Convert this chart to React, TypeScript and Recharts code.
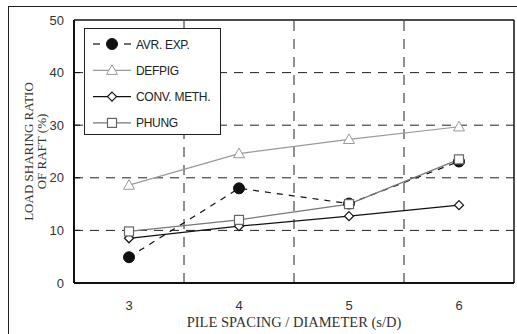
import React from "react";
import { LineChart, Line, XAxis, YAxis, ReferenceLine } from "recharts";

const SPACING = [3, 4, 5, 6];
const AVR_EXP = [4.9, 18.0, 15.1, 23.1];
const DEFPIG = [18.6, 24.6, 27.3, 29.7];
const CONV_METH = [8.5, 10.8, 12.7, 14.8];
const PHUNG = [9.8, 12.0, 15.0, 23.5];

const X_TICKS = [3, 4, 5, 6];
const Y_TICKS = [0, 10, 20, 30, 40, 50];
const V_GRID = [3.5, 4.5, 5.5];
const H_GRID = [10, 20, 30, 40];

const data = SPACING.map((s, i) => ({
  s,
  avr: AVR_EXP[i],
  defpig: DEFPIG[i],
  conv: CONV_METH[i],
  phung: PHUNG[i],
}));

const SANS = "'Liberation Sans', Arial, sans-serif";
const SERIF = "'Liberation Serif', 'Times New Roman', serif";

function Circle({ cx, cy }: any) {
  return <circle cx={cx} cy={cy} r={5.5} fill="#111" stroke="#111" />;
}
function Triangle({ cx, cy }: any) {
  const r = 5.5;
  return (
    <polygon
      points={`${cx},${cy - r} ${cx - r},${cy + r * 0.75} ${cx + r},${cy + r * 0.75}`}
      fill="#fff"
      stroke="#999"
      strokeWidth={1}
    />
  );
}
function Diamond({ cx, cy }: any) {
  const r = 4.5;
  return (
    <polygon
      points={`${cx},${cy - r} ${cx + r},${cy} ${cx},${cy + r} ${cx - r},${cy}`}
      fill="#fff"
      stroke="#111"
      strokeWidth={1.2}
    />
  );
}
function Square({ cx, cy }: any) {
  const r = 4.5;
  return <rect x={cx - r} y={cy - r} width={r * 2} height={r * 2} fill="#fff" stroke="#666" strokeWidth={1.2} />;
}

const SERIES = [
  { key: "avr", name: "AVR. EXP.", color: "#111", dash: "6 6", Dot: Circle },
  { key: "defpig", name: "DEFPIG", color: "#999", dash: undefined, Dot: Triangle },
  { key: "conv", name: "CONV. METH.", color: "#111", dash: undefined, Dot: Diamond },
  { key: "phung", name: "PHUNG", color: "#777", dash: undefined, Dot: Square },
];

function LegendBox() {
  return (
    <div
      style={{
        position: "absolute",
        left: 84,
        top: 28,
        width: 137,
        height: 107,
        border: "1px solid #222",
        background: "#fff",
        boxSizing: "border-box",
      }}
    >
      <svg width={135} height={105} style={{ display: "block" }}>
        {SERIES.map((s, i) => {
          const y = 15 + i * 26.3;
          const D = s.Dot;
          return (
            <g key={s.key}>
              {s.dash ? (
                <>
                  <line x1={8} x2={15} y1={y} y2={y} stroke={s.color} strokeWidth={1.2} />
                  <line x1={39} x2={46} y1={y} y2={y} stroke={s.color} strokeWidth={1.2} />
                </>
              ) : (
                <line x1={8} x2={46} y1={y} y2={y} stroke={s.color} strokeWidth={1.2} />
              )}
              <D cx={27} cy={y} />
              <text x={51} y={y + 4.5} fontSize={12} fontFamily={SANS} fill="#222" letterSpacing={-0.3}>
                {s.name}
              </text>
            </g>
          );
        })}
      </svg>
    </div>
  );
}

function YTick({ x, y, payload }: any) {
  return (
    <g>
      <text x={x} y={y + 4.5} textAnchor="end" fontSize={13} fontFamily={SANS} fill="#333">
        {payload.value}
      </text>
      {payload.value !== 0 && payload.value !== 50 && (
        <line x1={x + 10} x2={x + 16} y1={y} y2={y} stroke="#111" />
      )}
    </g>
  );
}

function YLabel({ viewBox }: any) {
  const cy = viewBox.y + viewBox.height / 2;
  const x1 = viewBox.x + 28;
  const x2 = viewBox.x + 41;
  return (
    <g fontFamily={SERIF} fontSize={13} fill="#333" textAnchor="middle">
      <text x={x1} y={cy} transform={`rotate(-90, ${x1}, ${cy})`} dy="0.35em">
        LOAD SHARING RATIO
      </text>
      <text x={x2} y={cy} transform={`rotate(-90, ${x2}, ${cy})`} dy="0.35em">
        OF RAFT (%)
      </text>
    </g>
  );
}

function XLabel({ viewBox }: any) {
  const cx = viewBox.x + viewBox.width / 2;
  return (
    <text x={cx} y={327} textAnchor="middle" fontFamily={SERIF} fontSize={14.5} fill="#333">
      PILE SPACING / DIAMETER (s/D)
    </text>
  );
}

export default function App() {
  return (
    <div style={{ position: "absolute", left: 0, top: 0, width: 517, height: 334, background: "#fff", overflow: "hidden" }}>
      <div
        style={{
          position: "absolute",
          left: 8,
          top: 6,
          width: 520,
          height: 340,
          borderLeft: "1.5px solid #222",
          borderTop: "1.5px solid #222",
        }}
      />
      <div style={{ position: "absolute", left: 0, top: 0 }}>
        <LineChart width={517} height={334} data={data} margin={{ top: 20, right: 3, left: 0, bottom: 0 }}>
          <XAxis
            dataKey="s"
            type="number"
            domain={[2.5, 6.5]}
            ticks={X_TICKS}
            height={51}
            tickLine={false}
            axisLine={{ stroke: "#111", strokeWidth: 2 }}
            tickMargin={12}
            tick={{ fontSize: 13, fontFamily: SANS, fill: "#333" }}
            label={{ content: XLabel }}
          />
          <YAxis
            type="number"
            domain={[0, 50]}
            ticks={Y_TICKS}
            width={74}
            tickLine={false}
            tickSize={0}
            tickMargin={10}
            axisLine={{ stroke: "#111", strokeWidth: 2 }}
            tick={YTick}
            label={{ content: YLabel }}
          />
          {H_GRID.map((v) => (
            <ReferenceLine key={`h${v}`} y={v} stroke="#222" strokeDasharray="9 7" strokeWidth={1} />
          ))}
          {V_GRID.map((v) => (
            <ReferenceLine key={`v${v}`} x={v} stroke="#222" strokeDasharray="10 8" strokeWidth={1} />
          ))}
          <ReferenceLine y={50} stroke="#111" strokeWidth={1.5} />
          <ReferenceLine x={6.5} stroke="#111" strokeWidth={1.5} />
          {SERIES.map((s) => (
            <Line
              key={s.key}
              dataKey={s.key}
              name={s.name}
              type="linear"
              stroke={s.color}
              strokeWidth={1.2}
              strokeDasharray={s.dash}
              dot={(p: any) => <s.Dot key={`${s.key}${p.index}`} cx={p.cx} cy={p.cy} />}
              activeDot={false}
              isAnimationActive={false}
            />
          ))}
        </LineChart>
      </div>
      <LegendBox />
    </div>
  );
}
